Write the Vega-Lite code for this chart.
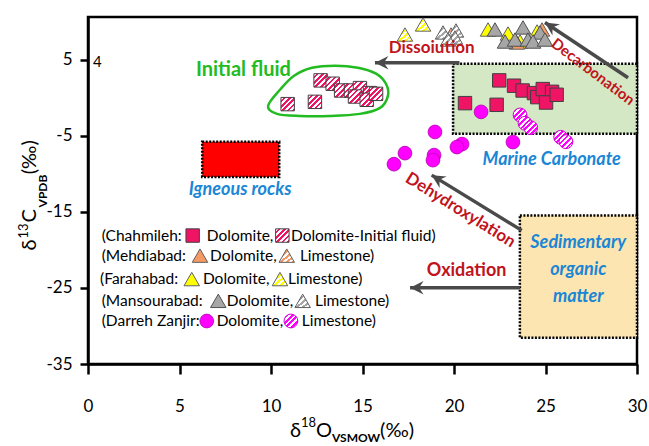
{
  "$schema": "https://vega.github.io/schema/vega-lite/v6.json",
  "width": 549,
  "height": 347,
  "autosize": "none",
  "padding": {"left": 88, "top": 17, "right": 12, "bottom": 82},
  "background": "white",
  "config": {
    "view": {"stroke": "black", "strokeWidth": 2.5},
    "axis": {"grid": false, "domainColor": "black", "domainWidth": 2.5, "tickColor": "black", "tickWidth": 2.5, "labelFont": "Lato", "labelFontSize": 17, "labelColor": "black"},
    "text": {"font": "Lato"}
  },
  "datasets": {
    "boxes": [
      {"n": "marine", "x": 19.95, "x2": 30, "y": -4.75, "y2": 4.47},
      {"n": "igneous", "x": 6.24, "x2": 10.45, "y": -10.42, "y2": -5.79},
      {"n": "sed", "x": 23.6, "x2": 30, "y": -31.55, "y2": -15.48}
    ],
    "blob": [
      {"i": 1, "x": 9.84, "y": -1.08},
      {"i": 2, "x": 10.49, "y": 1.04},
      {"i": 3, "x": 11.26, "y": 2.89},
      {"i": 4, "x": 12.24, "y": 3.94},
      {"i": 5, "x": 13.5, "y": 4.21},
      {"i": 6, "x": 14.75, "y": 3.94},
      {"i": 7, "x": 15.74, "y": 3.15},
      {"i": 8, "x": 16.28, "y": 1.83},
      {"i": 9, "x": 16.39, "y": 0.24},
      {"i": 10, "x": 15.96, "y": -1.34},
      {"i": 11, "x": 14.86, "y": -2.13},
      {"i": 12, "x": 13.22, "y": -2.4},
      {"i": 13, "x": 11.58, "y": -2.4},
      {"i": 14, "x": 10.33, "y": -2.13}
    ],
    "arrows": [
      {"n": "dis", "x": 20.3, "y": 4.6, "x2": 15.68, "y2": 4.6},
      {"n": "dec", "x": 29.51, "y": 2.62, "x2": 24.97, "y2": 9.88},
      {"n": "deh", "x": 23.7, "y": -17.44, "x2": 18.78, "y2": -10.18},
      {"n": "oxi", "x": 23.61, "y": -24.97, "x2": 17.6, "y2": -24.97}
    ],
    "heads": [
      {"n": "dis", "x": 15.68, "y": 4.6},
      {"n": "dec", "x": 24.97, "y": 9.88},
      {"n": "deh", "x": 18.78, "y": -10.18},
      {"n": "oxi", "x": 17.6, "y": -24.97}
    ],
    "pts": [
      {"s": "chd", "x": 20.6, "y": -0.72},
      {"s": "chd", "x": 22.47, "y": 2.27},
      {"s": "chd", "x": 22.33, "y": -0.94},
      {"s": "chd", "x": 23.28, "y": 1.57},
      {"s": "chd", "x": 23.75, "y": 0.94},
      {"s": "chd", "x": 24.37, "y": 0.6},
      {"s": "chd", "x": 24.55, "y": 0.07},
      {"s": "chd", "x": 24.85, "y": 1.13},
      {"s": "chd", "x": 25.36, "y": 0.77},
      {"s": "chd", "x": 25.03, "y": -0.64},
      {"s": "chd", "x": 25.61, "y": 0.38},
      {"s": "chd", "x": 5.72, "y": -18.12},
      {"s": "chi", "x": 10.91, "y": -0.85},
      {"s": "chi", "x": 12.4, "y": -0.55},
      {"s": "chi", "x": 12.71, "y": 2.27},
      {"s": "chi", "x": 13.37, "y": 1.83},
      {"s": "chi", "x": 13.83, "y": 0.94},
      {"s": "chi", "x": 14.37, "y": 0.94},
      {"s": "chi", "x": 14.86, "y": 1.26},
      {"s": "chi", "x": 14.59, "y": 0.15},
      {"s": "chi", "x": 15.41, "y": 0.6},
      {"s": "chi", "x": 15.23, "y": -0.28},
      {"s": "chi", "x": 15.74, "y": 0.5},
      {"s": "chi", "x": 10.62, "y": -18.12},
      {"s": "mehl", "x": 19.84, "y": 8.3},
      {"s": "mehl", "x": 10.86, "y": -20.76},
      {"s": "farl", "x": 17.32, "y": 8.3},
      {"s": "farl", "x": 18.31, "y": 9.62},
      {"s": "farl", "x": 10.49, "y": -23.84},
      {"s": "manl", "x": 19.4, "y": 8.57},
      {"s": "manl", "x": 20.11, "y": 8.83},
      {"s": "manl", "x": 20.05, "y": 7.91},
      {"s": "manl", "x": 19.67, "y": 7.64},
      {"s": "manl", "x": 11.73, "y": -26.7},
      {"s": "fard", "x": 21.86, "y": 8.96},
      {"s": "fard", "x": 22.95, "y": 8.43},
      {"s": "fard", "x": 24.54, "y": 8.7},
      {"s": "fard", "x": 23.61, "y": 7.38},
      {"s": "fard", "x": 5.67, "y": -23.84},
      {"s": "mehd", "x": 24.81, "y": 8.96},
      {"s": "mehd", "x": 23.44, "y": 7.25},
      {"s": "mehd", "x": 6.12, "y": -20.76},
      {"s": "mand", "x": 22.24, "y": 8.96},
      {"s": "mand", "x": 23.77, "y": 9.23},
      {"s": "mand", "x": 24.7, "y": 8.57},
      {"s": "mand", "x": 22.79, "y": 7.38},
      {"s": "mand", "x": 23.33, "y": 7.64},
      {"s": "mand", "x": 24.04, "y": 7.64},
      {"s": "mand", "x": 24.32, "y": 7.38},
      {"s": "mand", "x": 24.97, "y": 7.64},
      {"s": "mand", "x": 7.12, "y": -26.7},
      {"s": "dzd", "x": 16.72, "y": -8.74},
      {"s": "dzd", "x": 17.32, "y": -7.29},
      {"s": "dzd", "x": 18.96, "y": -4.51},
      {"s": "dzd", "x": 18.91, "y": -7.55},
      {"s": "dzd", "x": 18.85, "y": -8.21},
      {"s": "dzd", "x": 20.44, "y": -6.1},
      {"s": "dzd", "x": 20.16, "y": -6.49},
      {"s": "dzd", "x": 21.48, "y": -1.87},
      {"s": "dzd", "x": 23.22, "y": -5.83},
      {"s": "dzd", "x": 6.49, "y": -29.35},
      {"s": "dzl", "x": 23.61, "y": -2.27},
      {"s": "dzl", "x": 23.88, "y": -3.36},
      {"s": "dzl", "x": 24.19, "y": -3.94},
      {"s": "dzl", "x": 25.83, "y": -5.21},
      {"s": "dzl", "x": 26.12, "y": -5.79},
      {"s": "dzl", "x": 11.09, "y": -29.35}
    ],
    "notes": [
      {"k": "red16", "t": "Dissoiution", "x": 18.78, "y": 6.5},
      {"k": "red18", "t": "Oxidation", "x": 20.69, "y": -22.8},
      {"k": "dec", "t": "Decarbonation", "x": 27.6, "y": 3.4},
      {"k": "deh", "t": "Dehydroxylation", "x": 20.35, "y": -14.8},
      {"k": "green", "t": "Initial fluid", "x": 8.49, "y": 3.69},
      {"k": "blue", "t": "Igneous rocks", "x": 8.31, "y": -12.1},
      {"k": "blue", "t": "Marine Carbonate", "x": 25.34, "y": -8.14},
      {"k": "blue", "t": "Sedimentary", "x": 26.79, "y": -19.1},
      {"k": "blue", "t": "organic", "x": 26.79, "y": -22.7},
      {"k": "blue", "t": "matter", "x": 26.79, "y": -26.2},
      {"k": "black", "t": "4", "x": 0.27, "y": 4.74}
    ],
    "leg": [
      {"t": "(Chahmileh:", "x": 0.75, "y": -18.12},
      {"t": "Dolomite,", "x": 6.49, "y": -18.12},
      {"t": "Dolomite-Initial fluid)", "x": 11.09, "y": -18.12},
      {"t": "(Mehdiabad:", "x": 0.75, "y": -20.76},
      {"t": "Dolomite,", "x": 6.67, "y": -20.76},
      {"t": "Limestone)", "x": 11.58, "y": -20.76},
      {"t": "(Farahabad:", "x": 0.66, "y": -23.84},
      {"t": "Dolomite,", "x": 6.28, "y": -23.84},
      {"t": "Limestone)", "x": 10.93, "y": -23.84},
      {"t": "(Mansourabad:", "x": 0.75, "y": -26.7},
      {"t": "Dolomite,", "x": 7.58, "y": -26.7},
      {"t": "Limestone)", "x": 12.4, "y": -26.7},
      {"t": "(Darreh Zanjir:", "x": 0.75, "y": -29.35},
      {"t": "Dolomite,", "x": 7.03, "y": -29.35},
      {"t": "Limestone)", "x": 11.68, "y": -29.35}
    ],
    "ttl": [
      {"k": "xm", "t": "δ", "x": 11.04, "y": -44.54},
      {"k": "xsup", "t": "18", "x": 11.64, "y": -43.22},
      {"k": "xm", "t": "O", "x": 12.46, "y": -44.54},
      {"k": "xsub", "t": "VSMOW", "x": 13.33, "y": -45.2},
      {"k": "xm", "t": "(‰)", "x": 15.96, "y": -44.54},
      {"k": "ym", "t": "δ", "x": -2.84, "y": -20.1},
      {"k": "ysup", "t": "13", "x": -3.28, "y": -18.51},
      {"k": "ym", "t": "C", "x": -2.84, "y": -16.4},
      {"k": "ysub", "t": "VPDB", "x": -2.24, "y": -14.42},
      {"k": "ym", "t": "(‰)", "x": -2.84, "y": -10.06}
    ]
  },
  "encoding": {
    "x": {"field": "x", "type": "quantitative", "scale": {"domain": [0, 30], "nice": false, "zero": false}, "axis": {"values": [0, 5, 10, 15, 20, 25, 30], "tickSize": 10, "labelPadding": 24, "labelFlush": false, "title": null}},
    "y": {"field": "y", "type": "quantitative", "scale": {"domain": [-35, 10.6], "nice": false, "zero": false}, "axis": {"values": [-35, -25, -15, -5, 5], "tickSize": 8, "labelPadding": 8, "labelFlush": false, "labelExpr": "'' + datum.value", "title": null}}
  },
  "layer": [
    {
      "data": {"name": "boxes"},
      "mark": {"type": "rect", "stroke": "black", "strokeWidth": 2.5, "strokeDash": [2, 1.5]},
      "encoding": {
        "x2": {"field": "x2"},
        "y2": {"field": "y2"},
        "fill": {"field": "n", "type": "nominal", "scale": {"domain": ["marine", "igneous", "sed"], "range": ["#d4e8c6", "#ff0000", "#fce5b0"]}, "legend": null}
      }
    },
    {
      "data": {"name": "blob"},
      "mark": {"type": "line", "interpolate": "cardinal-closed", "stroke": "#22bb22", "strokeWidth": 2.5},
      "encoding": {"order": {"field": "i", "type": "quantitative"}}
    },
    {
      "data": {"name": "arrows"},
      "mark": {"type": "rule", "stroke": "#4a4a4a", "strokeWidth": 3.5},
      "encoding": {"x2": {"field": "x2"}, "y2": {"field": "y2"}}
    },
    {
      "data": {"name": "heads"},
      "transform": [{"filter": "datum.n==='dis' || datum.n==='oxi'"}],
      "mark": {"type": "point", "shape": "M0,0 L0.9,1.8 L0,1.2 L-0.9,1.8 Z", "filled": true, "fill": "#4a4a4a", "stroke": null, "size": 225, "angle": 270, "opacity": 1}
    },
    {
      "data": {"name": "heads"},
      "transform": [{"filter": "datum.n==='dec'"}],
      "mark": {"type": "point", "shape": "M0,0 L0.9,1.8 L0,1.2 L-0.9,1.8 Z", "filled": true, "fill": "#4a4a4a", "stroke": null, "size": 225, "angle": 303.5, "opacity": 1}
    },
    {
      "data": {"name": "heads"},
      "transform": [{"filter": "datum.n==='deh'"}],
      "mark": {"type": "point", "shape": "M0,0 L0.9,1.8 L0,1.2 L-0.9,1.8 Z", "filled": true, "fill": "#4a4a4a", "stroke": null, "size": 225, "angle": 301.4, "opacity": 1}
    },
    {
      "data": {"name": "pts"},
      "transform": [{"filter": "datum.s==='chd'"}],
      "mark": {"type": "point", "shape": "square", "filled": true, "fill": "#f01464", "stroke": "#404040", "strokeWidth": 1, "size": 180, "opacity": 1}
    },
    {
      "data": {"name": "pts"},
      "transform": [{"filter": "datum.s==='chi'"}],
      "mark": {"type": "point", "shape": "square", "filled": true, "stroke": "#404040", "strokeWidth": 1, "size": 180, "opacity": 1,
        "fill": {"gradient": "linear", "x1": 0, "y1": 0, "x2": 1, "y2": 1, "stops": [
          {"offset": 0, "color": "white"}, {"offset": 0.1, "color": "white"}, {"offset": 0.1, "color": "#f01464"}, {"offset": 0.2, "color": "#f01464"},
          {"offset": 0.2, "color": "white"}, {"offset": 0.3, "color": "white"}, {"offset": 0.3, "color": "#f01464"}, {"offset": 0.4, "color": "#f01464"},
          {"offset": 0.4, "color": "white"}, {"offset": 0.5, "color": "white"}, {"offset": 0.5, "color": "#f01464"}, {"offset": 0.6, "color": "#f01464"},
          {"offset": 0.6, "color": "white"}, {"offset": 0.7, "color": "white"}, {"offset": 0.7, "color": "#f01464"}, {"offset": 0.8, "color": "#f01464"},
          {"offset": 0.8, "color": "white"}, {"offset": 0.9, "color": "white"}, {"offset": 0.9, "color": "#f01464"}, {"offset": 1, "color": "#f01464"}]}}
    },
    {
      "data": {"name": "pts"},
      "transform": [{"filter": "datum.s==='mehl'"}],
      "mark": {"type": "point", "shape": "triangle-up", "filled": true, "stroke": "#606060", "strokeWidth": 1, "size": 240, "opacity": 1,
        "fill": {"gradient": "linear", "x1": 0, "y1": 0, "x2": 1, "y2": 1, "stops": [
          {"offset": 0, "color": "white"}, {"offset": 0.1, "color": "white"}, {"offset": 0.1, "color": "#f59a64"}, {"offset": 0.2, "color": "#f59a64"},
          {"offset": 0.2, "color": "white"}, {"offset": 0.3, "color": "white"}, {"offset": 0.3, "color": "#f59a64"}, {"offset": 0.4, "color": "#f59a64"},
          {"offset": 0.4, "color": "white"}, {"offset": 0.5, "color": "white"}, {"offset": 0.5, "color": "#f59a64"}, {"offset": 0.6, "color": "#f59a64"},
          {"offset": 0.6, "color": "white"}, {"offset": 0.7, "color": "white"}, {"offset": 0.7, "color": "#f59a64"}, {"offset": 0.8, "color": "#f59a64"},
          {"offset": 0.8, "color": "white"}, {"offset": 0.9, "color": "white"}, {"offset": 0.9, "color": "#f59a64"}, {"offset": 1, "color": "#f59a64"}]}}
    },
    {
      "data": {"name": "pts"},
      "transform": [{"filter": "datum.s==='farl'"}],
      "mark": {"type": "point", "shape": "triangle-up", "filled": true, "stroke": "#606060", "strokeWidth": 1, "size": 240, "opacity": 1,
        "fill": {"gradient": "linear", "x1": 0, "y1": 0, "x2": 1, "y2": 1, "stops": [
          {"offset": 0, "color": "white"}, {"offset": 0.1, "color": "white"}, {"offset": 0.1, "color": "#ffff00"}, {"offset": 0.2, "color": "#ffff00"},
          {"offset": 0.2, "color": "white"}, {"offset": 0.3, "color": "white"}, {"offset": 0.3, "color": "#ffff00"}, {"offset": 0.4, "color": "#ffff00"},
          {"offset": 0.4, "color": "white"}, {"offset": 0.5, "color": "white"}, {"offset": 0.5, "color": "#ffff00"}, {"offset": 0.6, "color": "#ffff00"},
          {"offset": 0.6, "color": "white"}, {"offset": 0.7, "color": "white"}, {"offset": 0.7, "color": "#ffff00"}, {"offset": 0.8, "color": "#ffff00"},
          {"offset": 0.8, "color": "white"}, {"offset": 0.9, "color": "white"}, {"offset": 0.9, "color": "#ffff00"}, {"offset": 1, "color": "#ffff00"}]}}
    },
    {
      "data": {"name": "pts"},
      "transform": [{"filter": "datum.s==='manl'"}],
      "mark": {"type": "point", "shape": "triangle-up", "filled": true, "stroke": "#606060", "strokeWidth": 1, "size": 240, "opacity": 1,
        "fill": {"gradient": "linear", "x1": 0, "y1": 0, "x2": 1, "y2": 1, "stops": [
          {"offset": 0, "color": "white"}, {"offset": 0.1, "color": "white"}, {"offset": 0.1, "color": "#a6a6a6"}, {"offset": 0.2, "color": "#a6a6a6"},
          {"offset": 0.2, "color": "white"}, {"offset": 0.3, "color": "white"}, {"offset": 0.3, "color": "#a6a6a6"}, {"offset": 0.4, "color": "#a6a6a6"},
          {"offset": 0.4, "color": "white"}, {"offset": 0.5, "color": "white"}, {"offset": 0.5, "color": "#a6a6a6"}, {"offset": 0.6, "color": "#a6a6a6"},
          {"offset": 0.6, "color": "white"}, {"offset": 0.7, "color": "white"}, {"offset": 0.7, "color": "#a6a6a6"}, {"offset": 0.8, "color": "#a6a6a6"},
          {"offset": 0.8, "color": "white"}, {"offset": 0.9, "color": "white"}, {"offset": 0.9, "color": "#a6a6a6"}, {"offset": 1, "color": "#a6a6a6"}]}}
    },
    {
      "data": {"name": "pts"},
      "transform": [{"filter": "datum.s==='fard'"}],
      "mark": {"type": "point", "shape": "triangle-up", "filled": true, "fill": "#ffff00", "stroke": "#606060", "strokeWidth": 1, "size": 240, "opacity": 1}
    },
    {
      "data": {"name": "pts"},
      "transform": [{"filter": "datum.s==='mehd'"}],
      "mark": {"type": "point", "shape": "triangle-up", "filled": true, "fill": "#f59a64", "stroke": "#606060", "strokeWidth": 1, "size": 240, "opacity": 1}
    },
    {
      "data": {"name": "pts"},
      "transform": [{"filter": "datum.s==='mand'"}],
      "mark": {"type": "point", "shape": "triangle-up", "filled": true, "fill": "#a6a6a6", "stroke": "#505050", "strokeWidth": 1, "size": 240, "opacity": 1}
    },
    {
      "data": {"name": "pts"},
      "transform": [{"filter": "datum.s==='dzd'"}],
      "mark": {"type": "point", "shape": "circle", "filled": true, "fill": "#ff00ff", "stroke": "#b000b0", "strokeWidth": 0.8, "size": 190, "opacity": 1}
    },
    {
      "data": {"name": "pts"},
      "transform": [{"filter": "datum.s==='dzl'"}],
      "mark": {"type": "point", "shape": "circle", "filled": true, "stroke": "#d000d0", "strokeWidth": 1, "size": 190, "opacity": 1,
        "fill": {"gradient": "linear", "x1": 0, "y1": 0, "x2": 1, "y2": 1, "stops": [
          {"offset": 0, "color": "white"}, {"offset": 0.1, "color": "white"}, {"offset": 0.1, "color": "#ff00ff"}, {"offset": 0.2, "color": "#ff00ff"},
          {"offset": 0.2, "color": "white"}, {"offset": 0.3, "color": "white"}, {"offset": 0.3, "color": "#ff00ff"}, {"offset": 0.4, "color": "#ff00ff"},
          {"offset": 0.4, "color": "white"}, {"offset": 0.5, "color": "white"}, {"offset": 0.5, "color": "#ff00ff"}, {"offset": 0.6, "color": "#ff00ff"},
          {"offset": 0.6, "color": "white"}, {"offset": 0.7, "color": "white"}, {"offset": 0.7, "color": "#ff00ff"}, {"offset": 0.8, "color": "#ff00ff"},
          {"offset": 0.8, "color": "white"}, {"offset": 0.9, "color": "white"}, {"offset": 0.9, "color": "#ff00ff"}, {"offset": 1, "color": "#ff00ff"}]}}
    },
    {
      "data": {"name": "notes"},
      "transform": [{"filter": "datum.k==='red16'"}],
      "mark": {"type": "text", "font": "Lato", "fontWeight": "bold", "fontSize": 17, "fill": "#c0141c", "align": "center", "baseline": "middle"},
      "encoding": {"text": {"field": "t"}}
    },
    {
      "data": {"name": "notes"},
      "transform": [{"filter": "datum.k==='red18'"}],
      "mark": {"type": "text", "font": "Lato", "fontWeight": "bold", "fontSize": 18, "fill": "#c0141c", "align": "center", "baseline": "middle"},
      "encoding": {"text": {"field": "t"}}
    },
    {
      "data": {"name": "notes"},
      "transform": [{"filter": "datum.k==='dec'"}],
      "mark": {"type": "text", "font": "Lato", "fontWeight": "bold", "fontSize": 15, "fill": "#c0141c", "align": "center", "baseline": "middle", "angle": 37},
      "encoding": {"text": {"field": "t"}}
    },
    {
      "data": {"name": "notes"},
      "transform": [{"filter": "datum.k==='deh'"}],
      "mark": {"type": "text", "font": "Lato", "fontWeight": "bold", "fontSize": 17, "fill": "#c0141c", "align": "center", "baseline": "middle", "angle": 32},
      "encoding": {"text": {"field": "t"}}
    },
    {
      "data": {"name": "notes"},
      "transform": [{"filter": "datum.k==='green'"}],
      "mark": {"type": "text", "font": "Lato", "fontWeight": "bold", "fontSize": 20, "fill": "#22bb22", "align": "center", "baseline": "middle"},
      "encoding": {"text": {"field": "t"}}
    },
    {
      "data": {"name": "notes"},
      "transform": [{"filter": "datum.k==='blue'"}],
      "mark": {"type": "text", "font": "Lato", "fontWeight": "bold", "fontStyle": "italic", "fontSize": 18, "fill": "#1a86d6", "align": "center", "baseline": "middle"},
      "encoding": {"text": {"field": "t"}}
    },
    {
      "data": {"name": "notes"},
      "transform": [{"filter": "datum.k==='black'"}],
      "mark": {"type": "text", "font": "Lato", "fontSize": 15, "fill": "black", "align": "left", "baseline": "middle"},
      "encoding": {"text": {"field": "t"}}
    },
    {
      "data": {"name": "leg"},
      "mark": {"type": "text", "font": "Lato", "fontSize": 15.5, "fill": "black", "align": "left", "baseline": "middle"},
      "encoding": {"text": {"field": "t"}}
    },
    {
      "data": {"name": "ttl"},
      "transform": [{"filter": "datum.k==='xm'"}],
      "mark": {"type": "text", "font": "Lato", "fontSize": 20, "fill": "black", "align": "left", "baseline": "alphabetic"},
      "encoding": {"text": {"field": "t"}}
    },
    {
      "data": {"name": "ttl"},
      "transform": [{"filter": "datum.k==='xsup'"}],
      "mark": {"type": "text", "font": "Lato", "fontSize": 13, "fill": "black", "align": "left", "baseline": "alphabetic"},
      "encoding": {"text": {"field": "t"}}
    },
    {
      "data": {"name": "ttl"},
      "transform": [{"filter": "datum.k==='xsub'"}],
      "mark": {"type": "text", "font": "Lato", "fontSize": 12, "fontWeight": "bold", "fill": "black", "align": "left", "baseline": "alphabetic"},
      "encoding": {"text": {"field": "t"}}
    },
    {
      "data": {"name": "ttl"},
      "transform": [{"filter": "datum.k==='ym'"}],
      "mark": {"type": "text", "font": "Lato", "fontSize": 20, "fill": "black", "align": "left", "baseline": "alphabetic", "angle": 270},
      "encoding": {"text": {"field": "t"}}
    },
    {
      "data": {"name": "ttl"},
      "transform": [{"filter": "datum.k==='ysup'"}],
      "mark": {"type": "text", "font": "Lato", "fontSize": 13, "fill": "black", "align": "left", "baseline": "alphabetic", "angle": 270},
      "encoding": {"text": {"field": "t"}}
    },
    {
      "data": {"name": "ttl"},
      "transform": [{"filter": "datum.k==='ysub'"}],
      "mark": {"type": "text", "font": "Lato", "fontSize": 12, "fontWeight": "bold", "fill": "black", "align": "left", "baseline": "alphabetic", "angle": 270},
      "encoding": {"text": {"field": "t"}}
    }
  ]
}
